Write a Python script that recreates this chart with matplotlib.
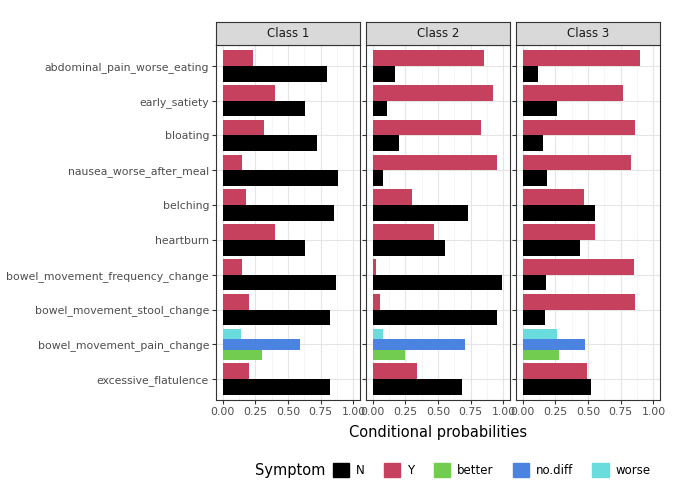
import matplotlib.pyplot as plt
from matplotlib.patches import Patch
import numpy as np

symptoms = ["abdominal_pain_worse_eating", "early_satiety", "bloating",
            "nausea_worse_after_meal", "belching", "heartburn",
            "bowel_movement_frequency_change", "bowel_movement_stool_change",
            "bowel_movement_pain_change", "excessive_flatulence"]
classes = ["Class 1", "Class 2", "Class 3"]

# N / Y probabilities per class (NaN for pain_change which uses other levels)
N_vals = [
    [0.80, 0.63, 0.72, 0.88, 0.85, 0.63, 0.87, 0.82, np.nan, 0.82],
    [0.17, 0.11, 0.20, 0.08, 0.73, 0.55, 0.99, 0.95, np.nan, 0.68],
    [0.12, 0.26, 0.16, 0.19, 0.55, 0.44, 0.18, 0.17, np.nan, 0.52],
]
Y_vals = [
    [0.23, 0.40, 0.32, 0.15, 0.18, 0.40, 0.15, 0.20, np.nan, 0.20],
    [0.85, 0.92, 0.83, 0.95, 0.30, 0.47, 0.03, 0.06, np.nan, 0.34],
    [0.90, 0.77, 0.86, 0.83, 0.47, 0.55, 0.85, 0.86, np.nan, 0.49],
]
# bowel_movement_pain_change levels per class
better_vals = [0.30, 0.25, 0.28]
nodiff_vals = [0.59, 0.71, 0.48]
worse_vals = [0.14, 0.08, 0.26]

colors = {"N": "black", "Y": "#C5415E", "better": "#72CC50",
          "no.diff": "#4A84E0", "worse": "#6ADCDE"}

fig = plt.figure(figsize=(6.8, 4.91), dpi=100)
lefts = [216, 366, 516]
pw = 144
bottom, top = 1 - 400 / 491, 1 - 45 / 491
n = len(symptoms)
ypos = n - 1 - np.arange(n)

for k in range(3):
    ax = fig.add_axes([lefts[k] / 680, bottom, pw / 680, top - bottom])
    for i, s in enumerate(symptoms):
        y0 = ypos[i]
        if s == "bowel_movement_pain_change":
            w = 0.3
            vals = [better_vals[k], nodiff_vals[k], worse_vals[k]]
            for j, (lv, v) in enumerate(zip(["better", "no.diff", "worse"], vals)):
                ax.barh(y0 - 0.3 + j * w, v, height=w, color=colors[lv], zorder=3)
        else:
            ax.barh(y0 - 0.225, N_vals[k][i], height=0.45, color=colors["N"], zorder=3)
            ax.barh(y0 + 0.225, Y_vals[k][i], height=0.45, color=colors["Y"], zorder=3)
    ax.set_xlim(-0.05, 1.05)
    ax.set_ylim(-0.6, n - 0.4)
    ax.set_xticks([0, 0.25, 0.5, 0.75, 1.0])
    ax.set_xticklabels(["0.00", "0.25", "0.50", "0.75", "1.00"], fontsize=7.8, color="#4d4d4d")
    ax.set_xticks([0.125, 0.375, 0.625, 0.875], minor=True)
    ax.set_yticks(ypos)
    if k == 0:
        ax.set_yticklabels(symptoms, fontsize=7.8, color="#4d4d4d")
    else:
        ax.set_yticklabels([])
    ax.grid(True, which="major", color="#e5e5e5", lw=0.8, zorder=0)
    ax.grid(True, which="minor", axis="x", color="#f2f2f2", lw=0.5, zorder=0)
    ax.tick_params(which="minor", length=0)
    ax.tick_params(length=3, color="#333333", pad=2)
    for sp in ax.spines.values():
        sp.set_color("#333333")
        sp.set_linewidth(0.8)
    sax = fig.add_axes([lefts[k] / 680, top, pw / 680, 23 / 491])
    sax.set_facecolor("#d9d9d9")
    sax.set_xticks([])
    sax.set_yticks([])
    for sp in sax.spines.values():
        sp.set_color("#333333")
        sp.set_linewidth(0.8)
    sax.text(0.5, 0.5, classes[k], ha="center", va="center", fontsize=8.5, color="#1a1a1a")

fig.text((216 + 660) / 2 / 680, 1 - 432 / 491, "Conditional probabilities",
         ha="center", va="center", fontsize=10.5)
fig.text(255 / 680, 1 - 470 / 491, "Symptom", ha="left", va="center", fontsize=10.5)
handles = [Patch(color=colors[l]) for l in colors]
fig.legend(handles, list(colors.keys()), loc="center left", ncol=5,
           bbox_to_anchor=(322 / 680, 1 - 470 / 491), frameon=False, fontsize=8.5,
           handlelength=1.4, handleheight=1.4, columnspacing=1.6, handletextpad=0.6)

fig.savefig("out.png", dpi=100)
